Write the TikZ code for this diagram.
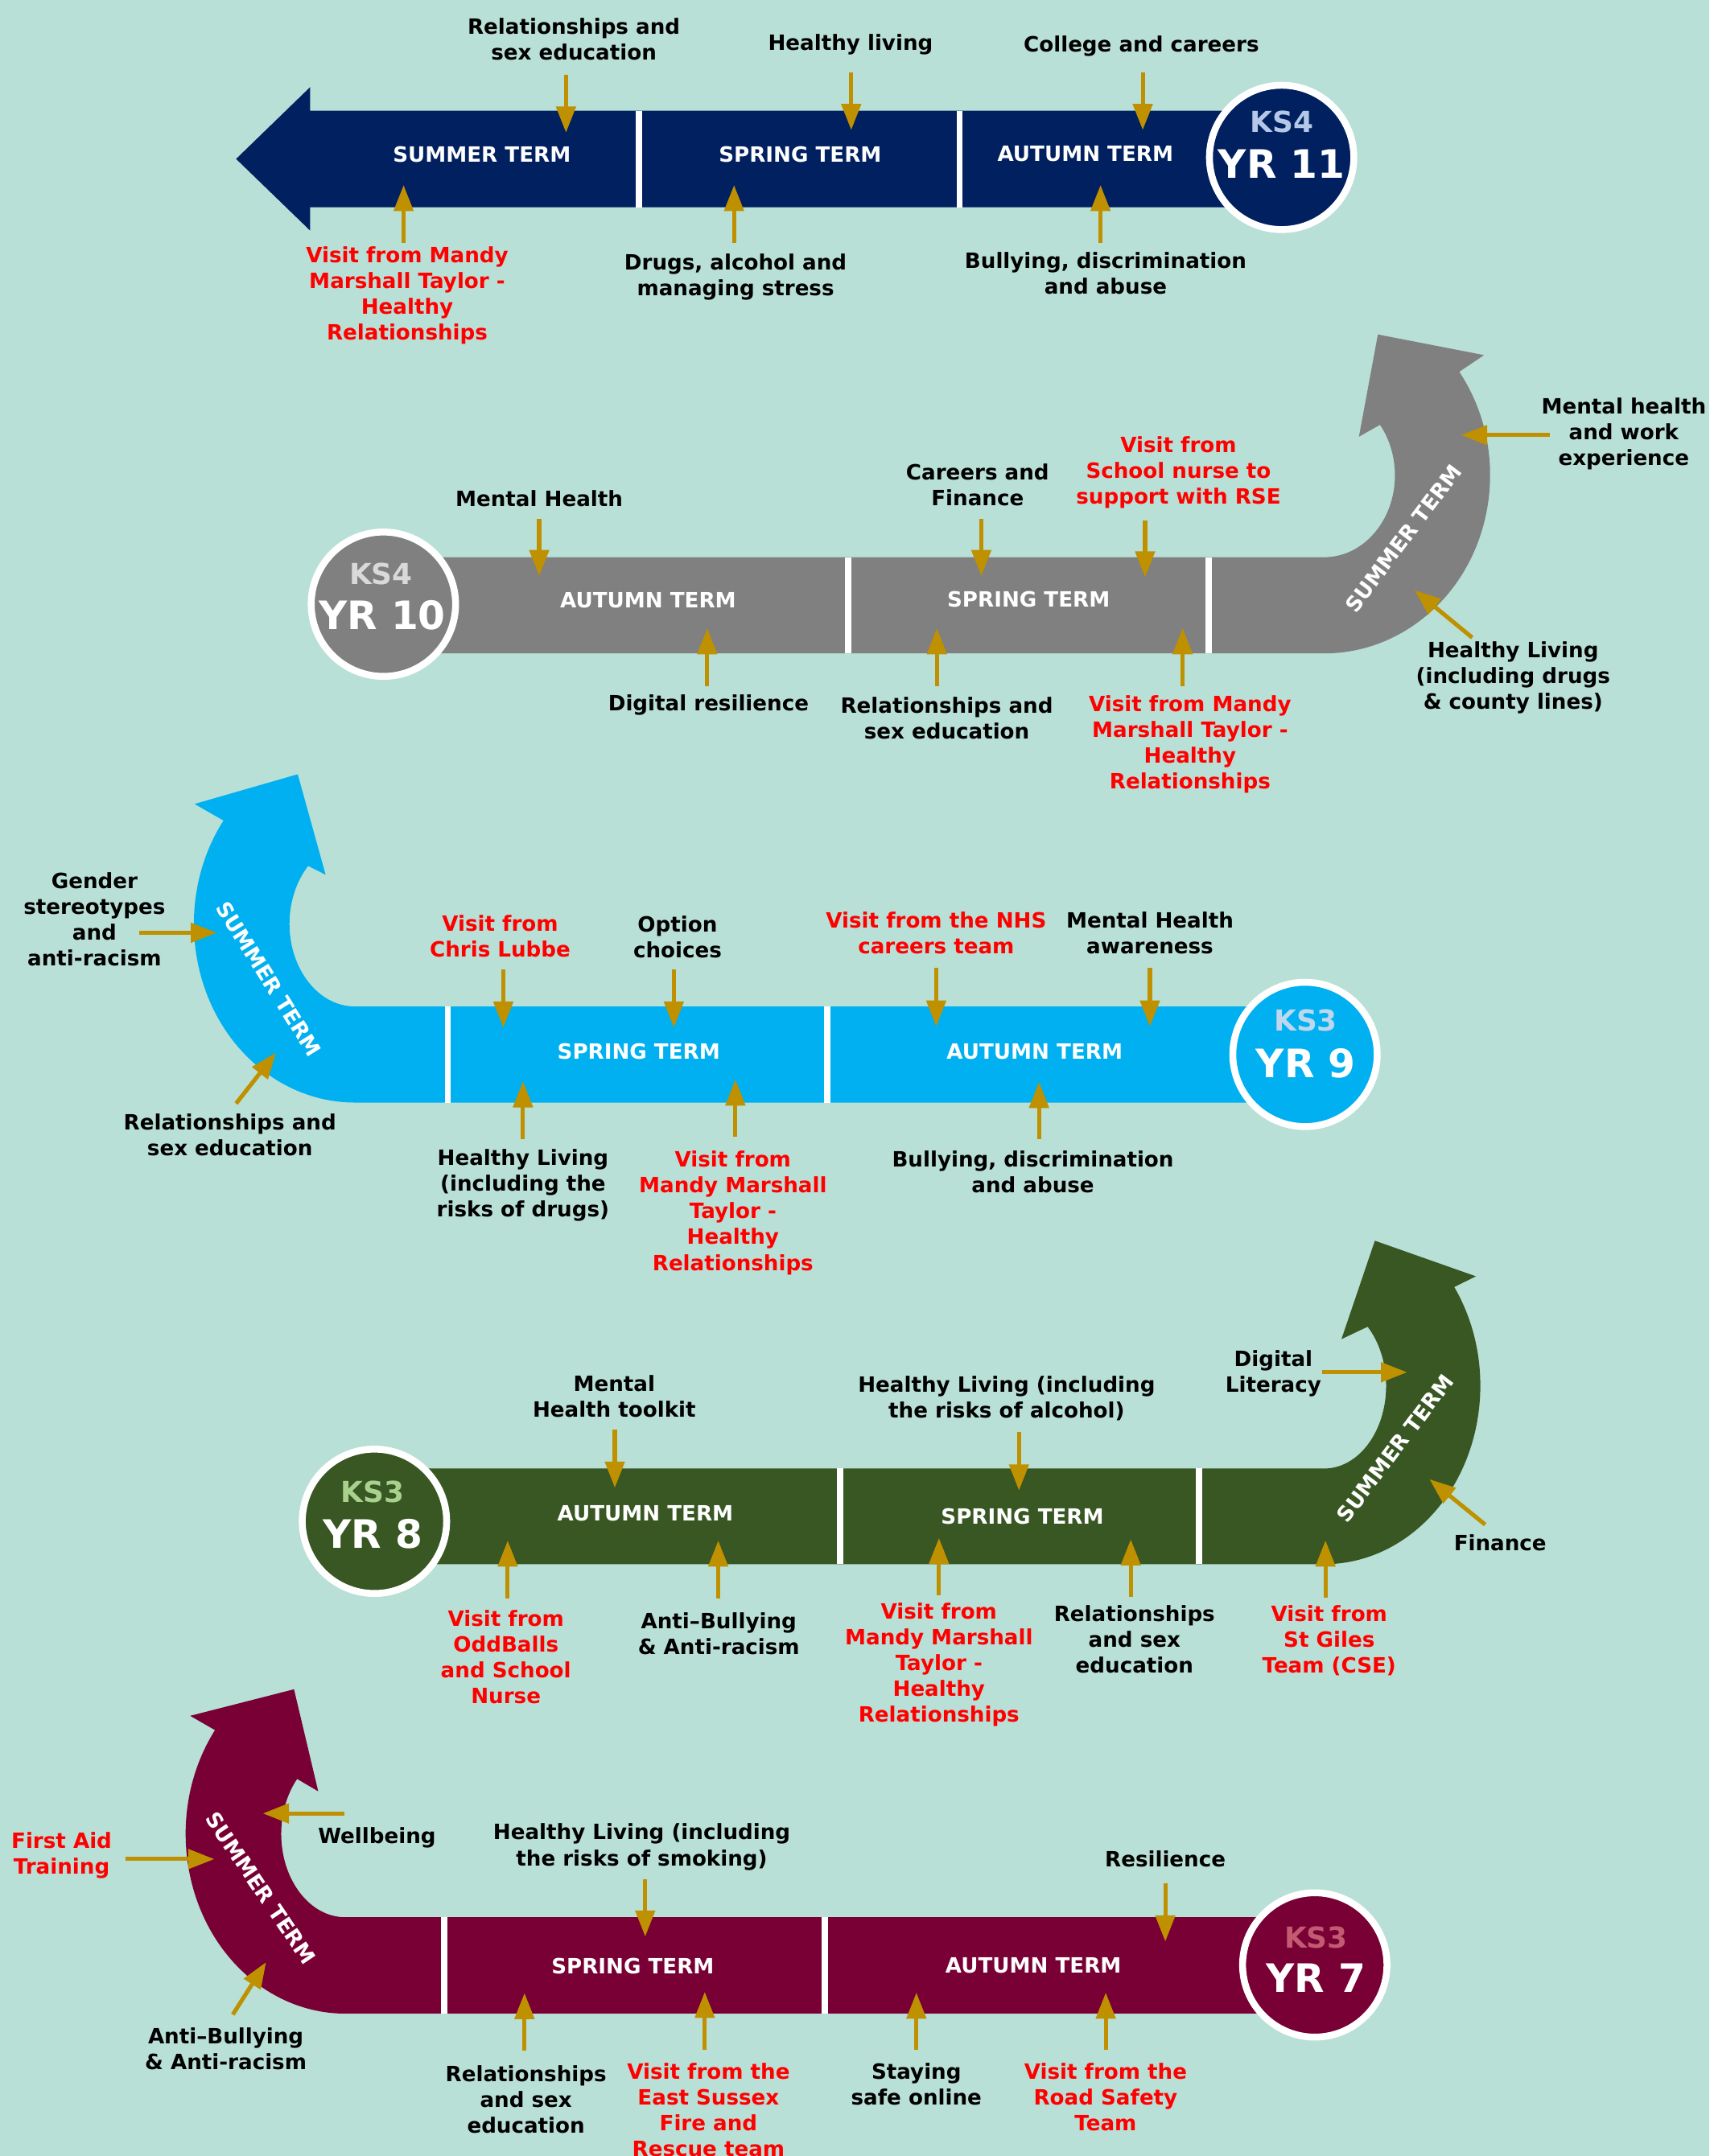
\documentclass[tikz,border=0pt]{standalone}
\usepackage{fontspec}
\setmainfont{DejaVu Sans}
\usetikzlibrary{arrows.meta,calc}

\definecolor{mint}{RGB}{185,224,214}
\definecolor{navy}{RGB}{0,32,96}
\definecolor{slate}{RGB}{128,128,128}
\definecolor{sky}{RGB}{0,176,240}
\definecolor{leaf}{RGB}{56,87,35}
\definecolor{wine}{RGB}{120,0,52}
\definecolor{gold}{RGB}{191,144,0}
\definecolor{ksnavy}{RGB}{180,199,231}
\definecolor{ksslate}{RGB}{217,217,217}
\definecolor{kssky}{RGB}{189,215,238}
\definecolor{ksleaf}{RGB}{169,209,142}
\definecolor{kswine}{RGB}{194,90,114}

\tikzset{
  topic/.style={align=center, inner sep=0pt, font=\fontsize{15.3}{18.75}\selectfont\bfseries},
  visit/.style={text=red},
  term/.style={text=white},
  yearring/.style={circle, draw=white, line width=5pt, minimum size=105pt, inner sep=0pt},
  ks/.style={inner sep=0pt, font=\fontsize{21}{21}\selectfont\bfseries},
  yr/.style={inner sep=0pt, text=white, font=\fontsize{28.5}{28.5}\selectfont\bfseries},
  split/.style={draw=white, line width=4.5pt},
}

\begin{document}
\begin{tikzpicture}[x=1pt,y=-1pt]

\fill[mint] (0,0) rectangle (1243,1568.3);
\useasboundingbox (0,0) rectangle (1243,1568.3);

% YR 11
\fill[navy] (932,80.6) -- (225.5,80.6) -- (225.5,63.4) -- (171.7,115.6) -- (225.5,167.7) -- (225.5,150.8) -- (932,150.8) -- cycle;
\draw[split] (464.8,80.6) -- (464.8,150.8);
\draw[split] (697.9,80.6) -- (697.9,150.8);

% YR 10
\fill[slate] (278.8,405.3) -- (963,405.3) arc[start angle=90,end angle=-38,x radius=51.4,y radius=59.6]
    -- (988.2,317.7) -- (1002,243.3) -- (1079.2,258.3)
    -- ($(963,345.7)+(-35.5:120.6 and 129.6)$) arc[start angle=-35.5,end angle=90,x radius=120.6,y radius=129.6]
    -- (278.8,475.3) -- cycle;
\draw[split] (616.9,405.3) -- (616.9,475.3);
\draw[split] (878.8,405.3) -- (878.8,475.3);

% YR 9
\fill[sky] (949,732.1) -- (258,732.1) arc[start angle=90,end angle=224.5,x radius=47.5,y radius=60.1]
    -- (236.8,636.3) -- (216.5,563.2) -- (141.5,584.8)
    -- ($(258,672)+(215.3:117 and 130)$) arc[start angle=215.3,end angle=90,x radius=117,y radius=130]
    -- (949,802) -- cycle;
\draw[split] (325.7,732.1) -- (325.7,802);
\draw[split] (601.5,732.1) -- (601.5,802);

% YR 8
\fill[leaf] (272.3,1068.2) -- (963,1068.2) arc[start angle=90,end angle=-45.5,x radius=45,y radius=60.2]
    -- (975.5,974.1) -- (999.8,902.5) -- (1073.3,928.4)
    -- ($(963,1008)+(-33.6:113.5 and 129.8)$) arc[start angle=-33.6,end angle=90,x radius=113.5,y radius=129.8]
    -- (272.3,1137.8) -- cycle;
\draw[split] (611,1068.2) -- (611,1137.8);
\draw[split] (872,1068.2) -- (872,1137.8);

% YR 7
\fill[wine] (956,1394.6) -- (251,1394.6) arc[start angle=90,end angle=221.3,x radius=46.5,y radius=60.6]
    -- (231.4,1303) -- (213.8,1228.8) -- (138.3,1248.1)
    -- ($(251,1334)+(215.3:116 and 130.7)$) arc[start angle=215.3,end angle=90,x radius=116,y radius=130.7]
    -- (956,1464.7) -- cycle;
\draw[split] (323.1,1394.6) -- (323.1,1464.7);
\draw[split] (599.8,1394.6) -- (599.8,1464.7);

% year circles
\node (y11) at (932,114.5) [yearring, fill=navy] {};
\node (y10) at (278.8,439.5) [yearring, fill=slate] {};
\node (y9) at (949,767) [yearring, fill=sky] {};
\node (y8) at (272.3,1106.6) [yearring, fill=leaf] {};
\node (y7) at (956.1,1429.3) [yearring, fill=wine] {};

\node (ks11) at (932,88.7) [ks, text=ksnavy] {KS4};
\node (yr11) at (932,119) [yr] {YR 11};
\node (ks10) at (277,417.5) [ks, text=ksslate] {KS4};
\node (yr10) at (278,447.7) [yr] {YR 10};
\node (ks9) at (949.5,742.2) [ks, text=kssky] {KS3};
\node (yr9) at (949.5,773.4) [yr] {YR 9};
\node (ks8) at (271,1085) [ks, text=ksleaf] {KS3};
\node (yr8) at (271,1115.8) [yr] {YR 8};
\node (ks7) at (957,1409.4) [ks, text=kswine] {KS3};
\node (yr7) at (957,1438.6) [yr] {YR 7};

\begin{scope}[every node/.style={topic}]
    % terms
    \node (sum11) at (350.4,112.1) [term] {SUMMER TERM};
    \node (spr11) at (581.9,112.1) [term] {SPRING TERM};
    \node (aut11) at (789.3,112.1) [term] {AUTUMN TERM};
    \node (aut10) at (471.3,436.6) [term] {AUTUMN TERM};
    \node (spr10) at (748,436) [term] {SPRING TERM};
    \node (sum10) at (1020.6,391.7) [term, rotate=53] {SUMMER TERM};
    \node (spr9) at (464.5,764.7) [term] {SPRING TERM};
    \node (aut9) at (752.4,765.2) [term] {AUTUMN TERM};
    \node (sum9) at (195.6,712) [term, rotate=-58] {SUMMER TERM};
    \node (aut8) at (469.3,1101.1) [term] {AUTUMN TERM};
    \node (spr8) at (743.5,1103.1) [term] {SPRING TERM};
    \node (sum8) at (1014.5,1053.6) [term, rotate=53] {SUMMER TERM};
    \node (spr7) at (460.2,1430.2) [term] {SPRING TERM};
    \node (aut7) at (751.5,1429.5) [term] {AUTUMN TERM};
    \node (sum7) at (189.6,1373.5) [term, rotate=-56] {SUMMER TERM};

    % YR 11 topics
    \node (t11a) at (417.3,28.7) {Relationships and\\sex education};
    \node (t11b) at (618.5,32.2) {Healthy living};
    \node (t11c) at (830,33.5) {College and careers};
    \node (t11d) at (296.1,214.8) [visit] {Visit from Mandy\\Marshall Taylor -\\Healthy\\Relationships};
    \node (t11e) at (534.9,201.3) {Drugs, alcohol and\\managing stress};
    \node (t11f) at (804,198.7) {Bullying, discrimination\\and abuse};

    % YR 10 topics
    \node (t10a) at (392.1,362.8) {Mental Health};
    \node (t10b) at (710.9,352.8) {Careers and\\Finance};
    \node (t10c) at (857,343.6) [visit] {Visit from\\School nurse to\\support with RSE};
    \node (t10d) at (515.2,513) {Digital resilience};
    \node (t10e) at (688.5,522.3) {Relationships and\\sex education};
    \node (t10f) at (865.4,541.6) [visit] {Visit from Mandy\\Marshall Taylor -\\Healthy\\Relationships};
    \node (t10g) at (1180.8,315.7) {Mental health\\and work\\experience};
    \node (t10h) at (1100.3,492.7) {Healthy Living\\(including drugs\\\& county lines)};

    % YR 9 topics
    \node (t9a) at (363.7,681) [visit] {Visit from\\Chris Lubbe};
    \node (t9b) at (492.7,681.8) {Option\\choices};
    \node (t9c) at (680.8,678.8) [visit] {Visit from the NHS\\careers team};
    \node (t9d) at (836.2,678.8) {Mental Health\\awareness};
    \node (t9e) at (380.3,862.2) {Healthy Living\\(including the\\risks of drugs)};
    \node (t9f) at (533,882.3) [visit] {Visit from\\Mandy Marshall\\Taylor -\\Healthy\\Relationships};
    \node (t9g) at (751.1,852.5) {Bullying, discrimination\\and abuse};
    \node (t9h) at (68.7,668.6) {Gender\\stereotypes\\and\\anti-racism};
    \node (t9i) at (167.2,825.6) {Relationships and\\sex education};

    % YR 8 topics
    \node (t8a) at (446.7,1016) {Mental\\Health toolkit};
    \node (t8b) at (732,1017.2) {Healthy Living (including\\the risks of alcohol)};
    \node (t8c) at (367.9,1205.3) [visit] {Visit from\\OddBalls\\and School\\Nurse};
    \node (t8d) at (522.7,1188.5) {Anti–Bullying\\\& Anti-racism};
    \node (t8e) at (682.8,1210.9) [visit] {Visit from\\Mandy Marshall\\Taylor -\\Healthy\\Relationships};
    \node (t8f) at (825,1192.5) {Relationships\\and sex\\education};
    \node (t8g) at (926,999.2) {Digital\\Literacy};
    \node (t8h) at (1090.9,1122.5) {Finance};
    \node (t8i) at (966.6,1193.3) [visit] {Visit from\\St Giles\\Team (CSE)};

    % YR 7 topics
    \node (t7a) at (466.7,1343.5) {Healthy Living (including\\the risks of smoking)};
    \node (t7b) at (847.4,1352.4) {Resilience};
    \node (t7c) at (382.5,1527) {Relationships\\and sex\\education};
    \node (t7d) at (515.2,1534.7) [visit] {Visit from the\\East Sussex\\Fire and\\Rescue team};
    \node (t7e) at (666.4,1516.3) {Staying\\safe online};
    \node (t7f) at (804,1525.5) [visit] {Visit from the\\Road Safety\\Team};
    \node (t7g) at (44.8,1349.4) [visit] {First Aid\\Training};
    \node (t7h) at (274.1,1336.6) {Wellbeing};
    \node (t7i) at (164.2,1490.5) {Anti–Bullying\\\& Anti-racism};
\end{scope}

% gold pointers
\begin{scope}[>={Triangle[length=19pt,width=14pt]},
              every edge/.style={draw=gold,line width=3pt}
]
    \foreach \n/\xa/\ya/\xb/\yb in {
        a1/411.6/54.6/411.6/96.5, a2/619/52.7/619/94.6, a3/831/52.7/831/94.6,
        a4/293.5/176.5/293.5/134.6, a5/533.8/176.5/533.8/134.6, a6/800.3/176.5/800.3/134.6,
        b1/392.1/377.5/392.1/419, b2/713.6/377.5/713.6/419, b3/832.7/378.5/832.7/420,
        b4/514.3/499/514.3/456.9, b5/681.3/499/681.3/456.9, b6/860/499/860/456.9,
        b7/1126.8/316.5/1062.5/316.5, b8/1070.6/463.8/1028.7/429.3,
        c1/366/705.2/366/747.5, c2/490/705.2/490/747.5, c3/680.8/704.2/680.8/746.7,
        c4/836.2/704.2/836.2/746.7, c5/380.3/828.7/380.3/786.5, c6/534.8/826.7/534.8/785.2,
        c7/755.6/828.7/755.6/787, c8/101.5/678.5/157.7/678.5, c9/171.7/802.7/200.7/765.7,
        d1/447.1/1040/447.1/1082.2, d2/741/1041.6/741/1084.2, d3/369.2/1162.6/369.2/1120.6,
        d4/522.3/1162.6/522.3/1120.6, d5/682.8/1160.6/682.8/1118.7, d6/822.3/1161.6/822.3/1119.7,
        d7/963.9/1162.2/963.9/1120.5, d8/961.2/998.2/1023.3/998.2, d9/1080/1109/1039.5/1076,
        e1/469.2/1367/469.2/1408.7, e2/847.4/1369.8/847.4/1412.3, e3/381.4/1491.9/381.4/1449.7,
        e4/512.5/1491.3/512.5/1448.9, e5/666.4/1491.3/666.4/1449.4, e6/804.1/1491.3/804.1/1449.4,
        e7/91.1/1352.3/155.9/1352.3, e8/250.2/1319.1/191.1/1319.1, e9/169.3/1465.4/193.5/1427.3}
    {
        \coordinate (\n s) at (\xa,\ya);
        \coordinate (\n e) at (\xb,\yb);
        \path [->] (\n s) edge (\n e);
    }
\end{scope}

\end{tikzpicture}
\end{document}
